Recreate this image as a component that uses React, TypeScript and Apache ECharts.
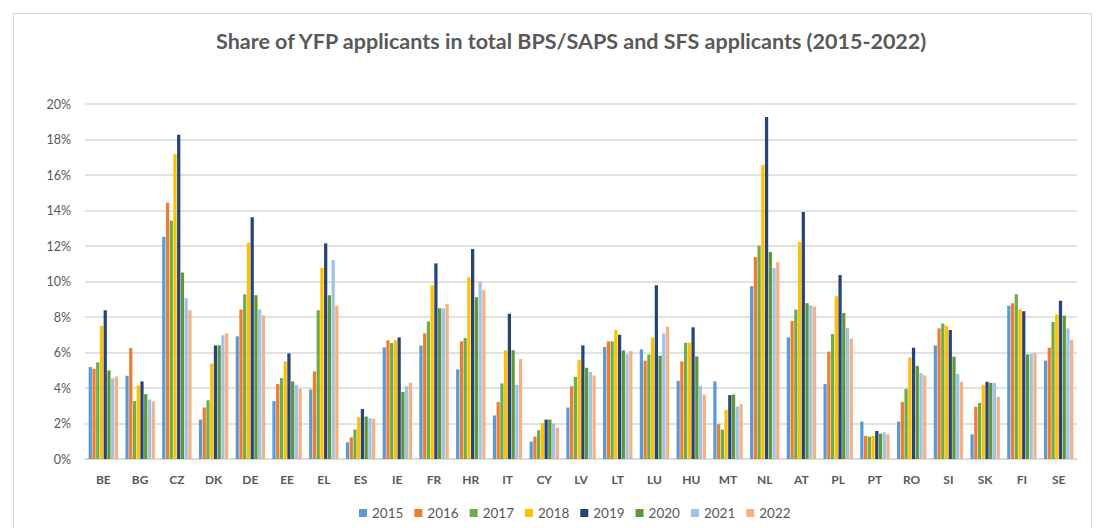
import React, { useEffect, useRef } from "react";
import * as echarts from "echarts";

const countries = ["BE","BG","CZ","DK","DE","EE","EL","ES","IE","FR","HR","IT","CY","LV","LT","LU","HU","MT","NL","AT","PL","PT","RO","SI","SK","FI","SE"];

const years = ["2015","2016","2017","2018","2019","2020","2021","2022"];

const colors = ["#5B9BD5","#ED7D31","#70AD47","#FFC000","#264478","#5E9638","#9DC3E6","#F4B183"];

// values in %
const v2015 = [5.18,4.69,12.52,2.22,6.91,3.26,3.92,0.94,6.29,6.40,5.05,2.45,0.98,2.90,6.31,6.18,4.41,4.37,9.74,6.85,4.22,2.11,2.11,6.40,1.39,8.63,5.54];
const v2016 = [5.08,6.25,14.43,2.90,8.42,4.22,4.93,1.22,6.69,7.08,6.63,3.22,1.26,4.10,6.63,5.54,5.50,1.96,11.37,7.78,6.05,1.30,3.22,7.36,2.94,8.78,6.27];
const v2017 = [5.44,3.26,13.43,3.31,9.28,4.56,8.38,1.66,6.53,7.74,6.82,4.26,1.62,4.63,6.63,5.89,6.55,1.66,12.02,8.42,7.04,1.26,3.95,7.63,3.16,9.28,7.72];
const v2018 = [7.50,4.14,17.18,5.37,12.18,5.50,10.77,2.35,6.69,9.79,10.24,6.12,2.03,5.59,7.27,6.85,6.55,2.77,16.57,12.22,9.17,1.30,5.72,7.50,4.16,8.44,8.14];
const v2019 = [8.38,4.37,18.27,6.40,13.62,5.95,12.15,2.82,6.85,11.02,11.83,8.19,2.22,6.40,7.00,9.79,7.42,3.60,19.27,13.92,10.36,1.58,6.27,7.27,4.35,8.32,8.91];
const v2020 = [4.99,3.65,10.51,6.40,9.23,4.37,9.23,2.39,3.77,8.49,9.11,6.12,2.22,5.14,6.12,5.82,5.78,3.63,11.66,8.78,8.23,1.43,5.25,5.76,4.29,5.89,8.08];
const v2021 = [4.54,3.35,9.06,6.97,8.42,4.18,11.20,2.30,4.10,8.49,10.00,4.18,2.00,4.90,5.91,7.08,4.12,2.96,10.77,8.66,7.40,1.49,4.84,4.80,4.29,5.93,7.36];
const v2022 = [4.65,3.26,8.38,7.08,8.10,3.95,8.64,2.26,4.31,8.74,9.51,5.63,1.77,4.71,6.08,7.46,3.63,3.09,11.09,8.59,6.78,1.39,4.71,4.35,3.50,5.97,6.72];

const seriesValues = [v2015, v2016, v2017, v2018, v2019, v2020, v2021, v2022];

export default function App() {
  const ref = useRef<HTMLDivElement>(null);
  useEffect(() => {
    if (!ref.current) return;
    const chart = echarts.init(ref.current, undefined, { renderer: "svg" });
    const font = "Lato, 'Open Sans', sans-serif";
    chart.setOption({
      animation: false,
      backgroundColor: "#ffffff",
      textStyle: { fontFamily: font },
      title: {
        text: "Share of YFP applicants in total BPS/SAPS and SFS applicants (2015-2022)",
        left: 211,
        top: 25,
        textStyle: { fontFamily: font, fontSize: 21.5, fontWeight: "bold", color: "#595959" },
      },
      graphic: [
        {
          type: "rect",
          shape: { x: 13.5, y: 13.5, width: 1078, height: 600 },
          style: { fill: "none", stroke: "#D9D9D9", lineWidth: 1 },
          silent: true,
        },
      ],
      legend: {
        bottom: 3,
        left: 354,
        itemWidth: 8,
        itemHeight: 8,
        itemGap: 11,
        icon: "rect",
        textStyle: { fontFamily: font, fontSize: 13.5, color: "#595959" },
        data: years,
      },
      grid: { left: 85, right: 27, top: 104, bottom: 69, containLabel: false },
      xAxis: {
        type: "category",
        data: countries,
        axisLine: { lineStyle: { color: "#D9D9D9", width: 1.5 } },
        axisTick: { show: false },
        axisLabel: { fontFamily: font, fontSize: 12, fontWeight: "bold", color: "#595959", margin: 14 },
      },
      yAxis: {
        type: "value",
        min: 0,
        max: 20,
        interval: 2,
        axisLine: { show: false },
        axisTick: { show: false },
        splitLine: { lineStyle: { color: "#D9D9D9", width: 1.5 } },
        axisLabel: { fontFamily: font, fontSize: 12.5, color: "#595959", margin: 14, formatter: (v: number) => v + "%" },
      },
      series: years.map((y, i) => ({
        name: y,
        type: "bar",
        data: seriesValues[i],
        itemStyle: { color: colors[i] },
        barGap: "15%",
        barCategoryGap: "20%",
      })),
    });
    return () => chart.dispose();
  }, []);
  return <div ref={ref} style={{ position: "fixed", left: 0, top: 0, width: 1104, height: 528 }} />;
}
